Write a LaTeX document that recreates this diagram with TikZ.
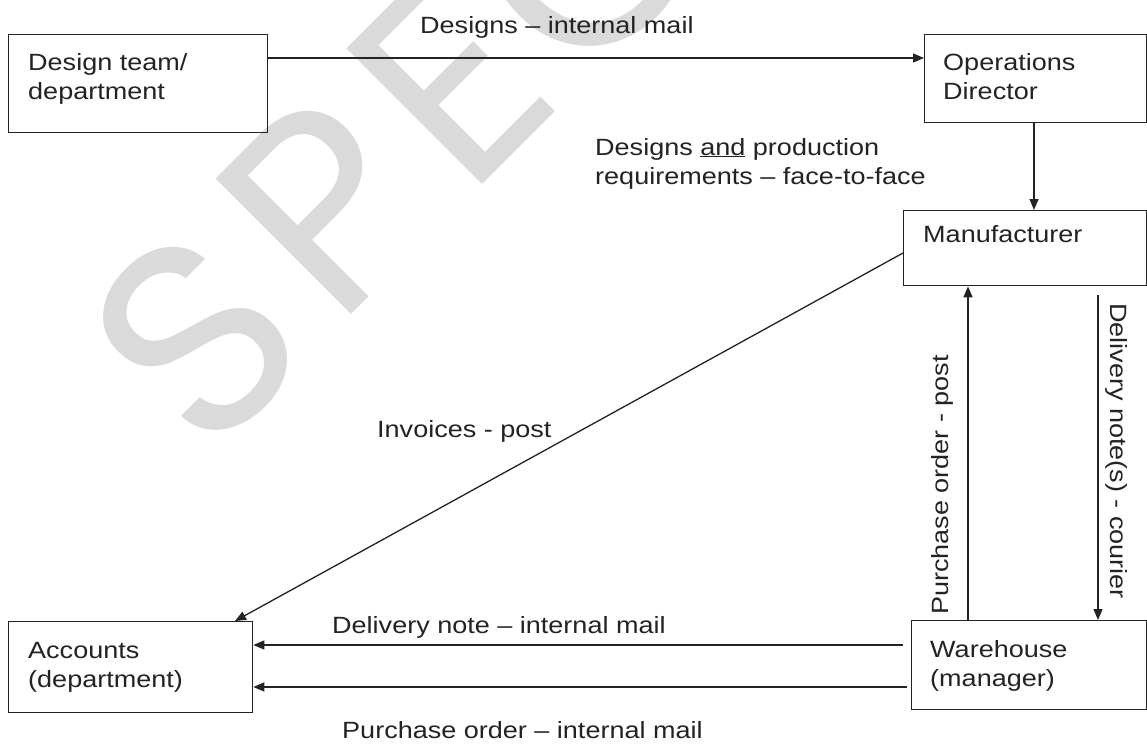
\documentclass[tikz,border=0pt]{standalone}
\usepackage{fontspec}
\setmainfont{Liberation Sans}[FakeStretch=1.15]
\newfontfamily\wmfont{Poppins}
\usetikzlibrary{arrows.meta}
\definecolor{wm}{RGB}{218,218,218}
\definecolor{ink}{RGB}{35,35,35}
\tikzset{
  box/.style={draw=ink, line width=1.3pt, rectangle, inner sep=0pt, anchor=north west},
  txt/.style={inner sep=0pt, text=ink, font=\fontsize{23.5}{29}\selectfont, align=left},
  arr/.style={draw=ink, line width=1.3pt, -{Triangle[length=11pt,width=9pt]}},
  wmtext/.style={inner sep=0pt, text=wm, font=\wmfont\fontsize{275}{275}\selectfont, rotate=45, anchor=base}
}
\begin{document}
\begin{tikzpicture}[x=1pt,y=-1pt]
\useasboundingbox (0,0) rectangle (1147,745);
\clip (0,0) rectangle (1147,745);
\fill[white] (0,0) rectangle (1147,745);
% watermark
\node[wmtext] (wS) at (264,406) {S};
\node[wmtext] (wP) at (393,273) {P};
\node[wmtext] (wE) at (517,150) {E};
\node[wmtext] (wC) at (655,17) {C};
% boxes
\node[box, minimum width=259pt, minimum height=98pt] (design) at (8,34) {};
\node[box, minimum width=222pt, minimum height=88pt] (ops) at (924,34) {};
\node[box, minimum width=243pt, minimum height=75pt] (manu) at (903,210) {};
\node[box, minimum width=235pt, minimum height=89pt] (ware) at (911,620) {};
\node[box, minimum width=244pt, minimum height=91pt] (acc) at (8,621) {};
% box texts
\node[txt, anchor=north west] (designT) at (28,52.8) {Design team/\\department};
\node[txt, anchor=north west] (opsT) at (943,52.8) {Operations\\Director};
\node[txt, anchor=base west] (manuT) at (923,242) {Manufacturer};
\node[txt, anchor=north west] (wareT) at (930,639.8) {Warehouse\\(manager)};
\node[txt, anchor=north west] (accT) at (28,641.8) {Accounts\\(department)};
% connectors
\draw[arr] ([yshift=-24pt]design.north east) -- ([yshift=-24pt]ops.north west);
\draw[arr] ([xshift=110pt]ops.south west) -- ([xshift=131pt]manu.north west);
\draw[arr] ([yshift=-43pt]manu.north west) -- ([xshift=227pt]acc.north west);
\draw[arr] ([xshift=57pt]ware.north west) -- ([xshift=65pt]manu.south west);
\coordinate (dstart) at (1098,295);
\draw[arr] (dstart) -- (dstart |- ware.north);
\draw[arr] ([shift={(-8pt,-25pt)}]ware.north west) -- ([yshift=-24pt]acc.north east);
\draw[arr] ([shift={(-4pt,-67pt)}]ware.north west) -- ([yshift=-66pt]acc.north east);
% connector labels
\node[txt, anchor=base west] (l1) at (420,33) {Designs -- internal mail};
\node[txt, anchor=north west] (l2) at (595,137.8) {Designs \underline{and} production\\requirements -- face-to-face};
\node[txt, anchor=base west] (l3) at (377,437) {Invoices - post};
\node[txt, anchor=base, rotate=90] (l4) at (948,485) {Purchase order - post};
\node[txt, anchor=base, rotate=-90] (l5) at (1110,451) {Delivery note(s) - courier};
\node[txt, anchor=base west] (l6) at (332,633) {Delivery note -- internal mail};
\node[txt, anchor=base west] (l7) at (342,738) {Purchase order -- internal mail};
\end{tikzpicture}
\end{document}
